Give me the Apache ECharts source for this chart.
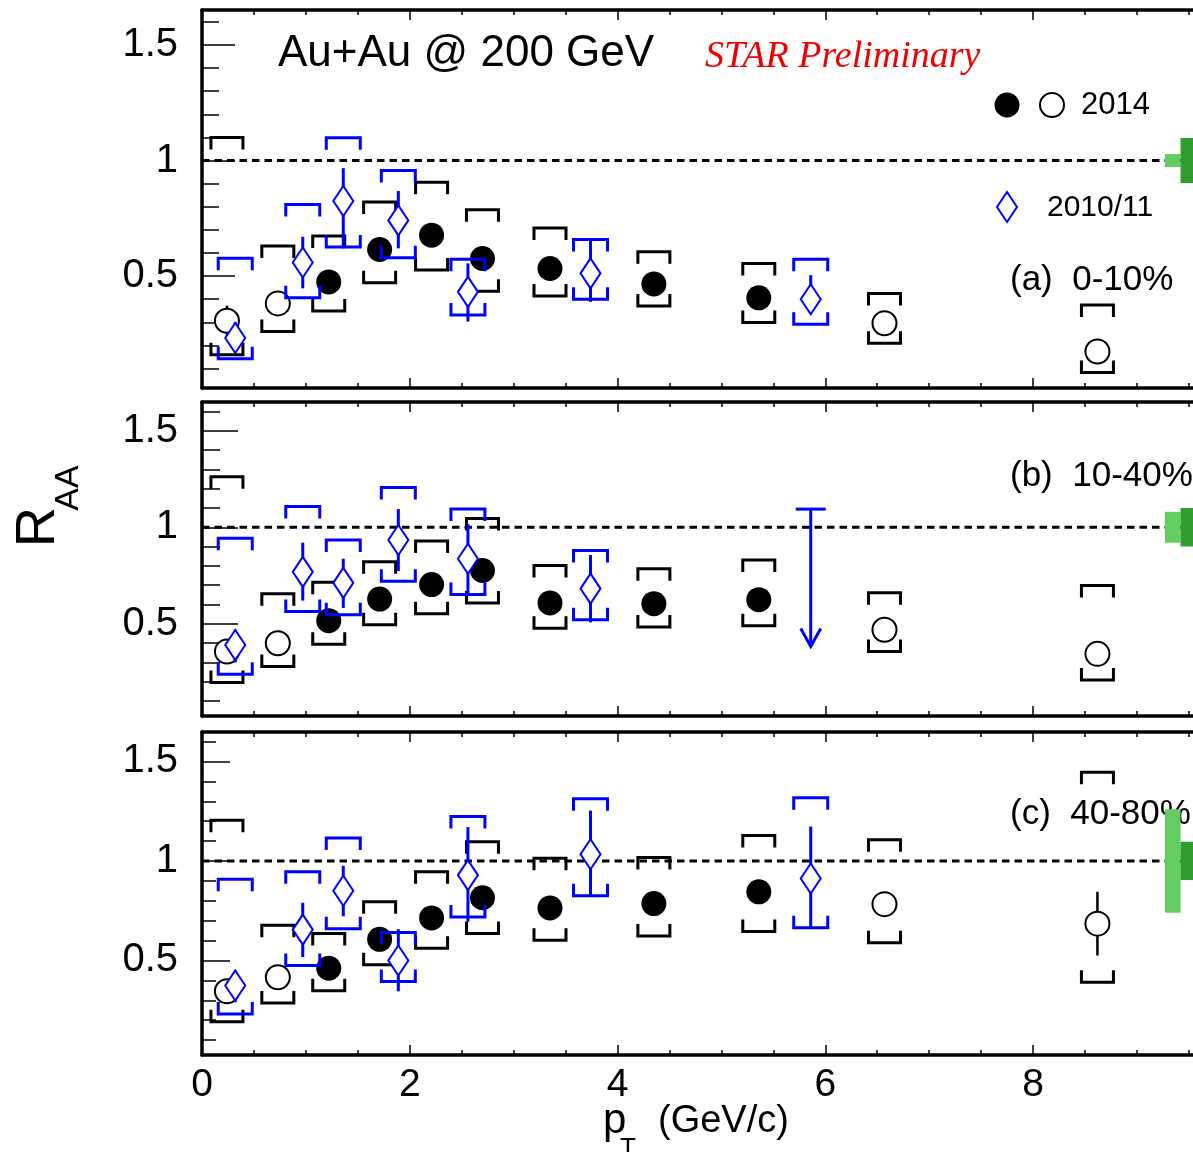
<!DOCTYPE html>
<html>
<head>
<meta charset="utf-8">
<script src="https://cdn.jsdelivr.net/npm/echarts@6/dist/echarts.min.js"></script>
<style>
html, body { margin: 0; padding: 0; background: #fff; }
#chart { width: 1193px; height: 1152px; }
</style>
</head>
<body>
<div id="chart"></div>
<script>
// pT bin centres (GeV/c)
const pt2014 = [0.24, 0.73, 1.22, 1.71, 2.21, 2.70, 3.35, 4.35, 5.36, 6.57, 8.62];
const pt2011 = [0.32, 0.97, 1.36, 1.89, 2.56, 3.74, 5.86];
const open2014 = [0, 1, 9, 10]; // bins drawn with open circles

// (a) 0-10%
const aRaa14   = [0.307, 0.382, 0.475, 0.615, 0.677, 0.576, 0.533, 0.466, 0.406, 0.296, 0.174];
const aStat14  = [0.065, 0.03, 0.02, 0.02, 0.02, 0.02, 0.02, 0.02, 0.02, 0.03, 0.04];
const aSysLo14 = [0.16, 0.26, 0.349, 0.471, 0.526, 0.435, 0.414, 0.371, 0.299, 0.21, 0.083];
const aSysHi14 = [1.10, 0.63, 0.674, 0.82, 0.906, 0.787, 0.708, 0.605, 0.555, 0.425, 0.375];
const aRaa11    = [0.232, 0.559, 0.825, 0.741, 0.432, 0.512, 0.40];
const aStatLo11 = [0.17, 0.447, 0.62, 0.62, 0.303, 0.389, 0.346];
const aStatHi11 = [0.30, 0.67, 0.967, 0.868, 0.555, 0.655, 0.504];
const aSysLo11  = [0.142, 0.406, 0.626, 0.579, 0.332, 0.40, 0.292];
const aSysHi11  = [0.577, 0.81, 1.098, 0.957, 0.573, 0.658, 0.573];

// (b) 10-40%
const bRaa14   = [0.356, 0.399, 0.516, 0.628, 0.703, 0.776, 0.608, 0.604, 0.625, 0.469, 0.344];
const bStat14  = [0.04, 0.03, 0.02, 0.02, 0.02, 0.02, 0.02, 0.02, 0.02, 0.04, 0.05];
const bSysLo14 = [0.196, 0.278, 0.394, 0.495, 0.552, 0.608, 0.477, 0.483, 0.49, 0.356, 0.208];
const bSysHi14 = [1.262, 0.656, 0.715, 0.821, 0.929, 1.045, 0.802, 0.785, 0.83, 0.66, 0.698];
const bRaa11    = [0.39, 0.769, 0.712, 0.934, 0.837, 0.682];
const bStatLo11 = [0.30, 0.62, 0.582, 0.773, 0.651, 0.507];
const bStatHi11 = [0.469, 0.92, 0.837, 1.094, 1.016, 0.856];
const bSysLo11  = [0.238, 0.564, 0.547, 0.72, 0.651, 0.521];
const bSysHi11  = [0.943, 1.108, 0.934, 1.206, 1.094, 0.88];
const bLimit11  = [1.094, 0.382]; // upper limit at last 2010/11 bin: bar top, arrow tip

// (c) 40-80%
const cRaa14   = [0.345, 0.416, 0.461, 0.606, 0.714, 0.815, 0.764, 0.786, 0.845, 0.783, 0.685];
const cStat14  = [0.04, 0.03, 0.02, 0.02, 0.02, 0.03, 0.03, 0.03, 0.04, 0.05, 0.16];
const cSysLo14 = [0.192, 0.286, 0.348, 0.478, 0.562, 0.635, 0.601, 0.623, 0.646, 0.589, 0.39];
const cSysHi14 = [1.204, 0.677, 0.635, 0.795, 0.946, 1.097, 1.013, 1.017, 1.128, 1.106, 1.446];
const cRaa11    = [0.374, 0.655, 0.85, 0.50, 0.929, 1.034, 0.912];
const cStatLo11 = [0.29, 0.517, 0.722, 0.345, 0.694, 0.825, 0.665];
const cStatHi11 = [0.449, 0.79, 0.976, 0.657, 1.17, 1.253, 1.173];
const cSysLo11  = [0.231, 0.475, 0.66, 0.394, 0.719, 0.825, 0.665];
const cSysHi11  = [0.908, 0.946, 1.115, 0.64, 1.224, 1.313, 1.317];

// normalisation uncertainty boxes at unity (half heights), a / b / c
const normEdges = [9.27, 9.42, 9.75];
const normLight = [0.028, 0.08, 0.26];
const normDark  = [0.097, 0.10, 0.096];

const xTicksMajor = [0, 2, 4, 6, 8];
const xTicksMinor = [0.5, 1, 1.5, 2.5, 3, 3.5, 4.5, 5, 5.5, 6.5, 7, 7.5, 8.5, 9, 9.5];
const yTicksMajor = [0.5, 1, 1.5];
const yTicksMinor = [0.1, 0.2, 0.3, 0.4, 0.6, 0.7, 0.8, 0.9, 1.1, 1.2, 1.3, 1.4, 1.6];

const panels = [
  { label: "(a)  0-10%", raa14: aRaa14, stat14: aStat14, sysLo14: aSysLo14, sysHi14: aSysHi14,
    raa11: aRaa11, statLo11: aStatLo11, statHi11: aStatHi11, sysLo11: aSysLo11, sysHi11: aSysHi11 },
  { label: "(b)  10-40%", raa14: bRaa14, stat14: bStat14, sysLo14: bSysLo14, sysHi14: bSysHi14,
    raa11: bRaa11, statLo11: bStatLo11, statHi11: bStatHi11, sysLo11: bSysLo11, sysHi11: bSysHi11 },
  { label: "(c)  40-80%", raa14: cRaa14, stat14: cStat14, sysLo14: cSysLo14, sysHi14: cSysHi14,
    raa11: cRaa11, statLo11: cStatLo11, statHi11: cStatHi11, sysLo11: cSysLo11, sysHi11: cSysHi11 },
];

const BLUE = "#0000ff";
const FONT = '"Liberation Sans", Arial, Helvetica, sans-serif';
const XMAX = 9.54;
const YMIN = [0.016, 0.022, 0.025];
const YMAX = [1.651, 1.649, 1.648];
const gridTop = [10, 402, 732];
const gridH = [378, 314, 323];
const yTickLong = [33, 36, 28];
const yTickShort = [17, 18, 14];
const labelY = [280, 476, 814];

function renderPoint(params, api) {
  const x = api.value(0);
  const c = api.coord([x, api.value(1)]);
  const sLo = api.coord([x, api.value(2)])[1];
  const sHi = api.coord([x, api.value(3)])[1];
  const stLo = api.coord([x, api.value(4)])[1];
  const stHi = api.coord([x, api.value(5)])[1];
  const kind = api.value(6); // 0 filled, 1 open, 2 diamond
  const col = kind === 2 ? BLUE : "#000";
  const hw = kind === 2 ? 17 : 16, leg = 12;
  const lineStyle = { stroke: col, lineWidth: 3, fill: null, lineJoin: "miter" };
  const children = [
    { type: "polyline", shape: { points: [[c[0] - hw, sHi + leg], [c[0] - hw, sHi], [c[0] + hw, sHi], [c[0] + hw, sHi + leg]] }, style: lineStyle },
    { type: "polyline", shape: { points: [[c[0] - hw, sLo - leg], [c[0] - hw, sLo], [c[0] + hw, sLo], [c[0] + hw, sLo - leg]] }, style: lineStyle },
    { type: "line", shape: { x1: c[0], y1: stHi, x2: c[0], y2: stLo }, style: { stroke: col, lineWidth: kind === 2 ? 3 : 2.5 } },
  ];
  if (kind === 0) {
    children.push({ type: "circle", shape: { cx: c[0], cy: c[1], r: 12.5 }, style: { fill: "#000" } });
  } else if (kind === 1) {
    children.push({ type: "circle", shape: { cx: c[0], cy: c[1], r: 12 }, style: { fill: "#fff", stroke: "#000", lineWidth: 2 } });
  } else {
    children.push({ type: "polygon", shape: { points: [[c[0], c[1] - 15], [c[0] + 10, c[1]], [c[0], c[1] + 15], [c[0] - 10, c[1]]] },
      style: { fill: "#fff", stroke: BLUE, lineWidth: 2 } });
  }
  return { type: "group", children: children };
}

function renderLimit(params, api) {
  const x = api.value(0);
  const top = api.coord([x, api.value(1)]);
  const tip = api.coord([x, api.value(2)]);
  const st = { stroke: BLUE, lineWidth: 3, fill: null };
  return { type: "group", children: [
    { type: "line", shape: { x1: top[0], y1: top[1], x2: tip[0], y2: tip[1] }, style: st },
    { type: "line", shape: { x1: top[0] - 15, y1: top[1], x2: top[0] + 15, y2: top[1] }, style: st },
    { type: "polyline", shape: { points: [[tip[0] - 10, tip[1] - 18], [tip[0], tip[1]], [tip[0] + 10, tip[1] - 18]] }, style: st },
  ] };
}

function renderNorm(params, api) {
  const x0 = api.value(0), x1 = api.value(1), x2 = api.value(2);
  const light = api.value(3), dark = api.value(4);
  const l0 = api.coord([x0, 1 + light]), l1 = api.coord([x1, 1 - light]);
  const d0 = api.coord([x1, 1 + dark]), d1 = api.coord([x2, 1 - dark]);
  return { type: "group", children: [
    { type: "rect", shape: { x: l0[0], y: l0[1], width: l1[0] - l0[0], height: l1[1] - l0[1] }, style: { fill: "#63cd63" } },
    { type: "rect", shape: { x: d0[0], y: d0[1], width: d1[0] - d0[0], height: d1[1] - d0[1] }, style: { fill: "#2f9e2f" } },
  ] };
}

const grids = [], xAxes = [], yAxes = [], series = [], graphics = [];

panels.forEach(function (p, i) {
  grids.push({ left: 202, right: 0, top: gridTop[i], height: gridH[i], containLabel: false, outerBoundsMode: "none" });
  const isLast = i === panels.length - 1;
  const xBase = { type: "value", gridIndex: i, min: 0, max: XMAX, splitLine: { show: false } };
  xAxes.push(Object.assign({}, xBase, {
    position: "bottom",
    axisLine: { show: true, lineStyle: { color: "#000", width: 3.5 } },
    axisTick: { show: true, inside: true, length: 10, customValues: xTicksMajor, lineStyle: { color: "#000", width: 1.5 } },
    axisLabel: { show: isLast, customValues: xTicksMajor, color: "#000", fontFamily: FONT, fontSize: 39, margin: 11 },
  }));
  xAxes.push(Object.assign({}, xBase, {
    position: "bottom",
    axisLine: { show: false },
    axisTick: { show: true, inside: true, length: 5, customValues: xTicksMinor, lineStyle: { color: "#000", width: 1.5 } },
    axisLabel: { show: false },
  }));
  xAxes.push(Object.assign({}, xBase, {
    position: "top",
    axisLine: { show: true, lineStyle: { color: "#000", width: 3.5 } },
    axisTick: { show: true, inside: true, length: 10, customValues: xTicksMajor, lineStyle: { color: "#000", width: 1.5 } },
    axisLabel: { show: false },
  }));
  xAxes.push(Object.assign({}, xBase, {
    position: "top",
    axisLine: { show: false },
    axisTick: { show: true, inside: true, length: 5, customValues: xTicksMinor, lineStyle: { color: "#000", width: 1.5 } },
    axisLabel: { show: false },
  }));
  const yBase = { type: "value", gridIndex: i, min: YMIN[i], max: YMAX[i], position: "left", splitLine: { show: false } };
  yAxes.push(Object.assign({}, yBase, {
    axisLine: { show: true, lineStyle: { color: "#000", width: 3.5 } },
    axisTick: { show: true, inside: true, length: yTickLong[i], customValues: yTicksMajor, lineStyle: { color: "#000", width: 1.5 } },
    axisLabel: { show: true, customValues: yTicksMajor, color: "#000", fontFamily: FONT, fontSize: 40, margin: 24 },
  }));
  yAxes.push(Object.assign({}, yBase, {
    axisLine: { show: false },
    axisTick: { show: true, inside: true, length: yTickShort[i], customValues: yTicksMinor, lineStyle: { color: "#000", width: 1.5 } },
    axisLabel: { show: false },
  }));

  const xi = 4 * i, yi = 2 * i;
  // unity reference
  series.push({
    type: "line", xAxisIndex: xi, yAxisIndex: yi, z: 1, silent: true, symbol: "none",
    data: [[0, 1], [XMAX, 1]],
    lineStyle: { color: "#000", width: 3, type: [7.5, 5] },
  });
  const d14 = pt2014.map(function (x, k) {
    return [x, p.raa14[k], p.sysLo14[k], p.sysHi14[k], p.raa14[k] - p.stat14[k], p.raa14[k] + p.stat14[k], open2014.indexOf(k) >= 0 ? 1 : 0];
  });
  series.push({ type: "custom", xAxisIndex: xi, yAxisIndex: yi, z: 3, silent: true, renderItem: renderPoint, data: d14 });
  const d11 = p.raa11.map(function (v, k) {
    return [pt2011[k], v, p.sysLo11[k], p.sysHi11[k], p.statLo11[k], p.statHi11[k], 2];
  });
  series.push({ type: "custom", xAxisIndex: xi, yAxisIndex: yi, z: 4, silent: true, renderItem: renderPoint, data: d11 });
  if (i === 1) {
    series.push({ type: "custom", xAxisIndex: xi, yAxisIndex: yi, z: 4, silent: true, renderItem: renderLimit,
      data: [[pt2011[6], bLimit11[0], bLimit11[1]]] });
  }
  series.push({ type: "custom", xAxisIndex: xi, yAxisIndex: yi, z: 5, silent: true, renderItem: renderNorm,
    data: [[normEdges[0], normEdges[1], normEdges[2], normLight[i], normDark[i]]] });

  graphics.push({ type: "text", x: 1010, y: labelY[i], z: 1,
    style: { text: p.label, font: "35px " + FONT, fill: "#000", textAlign: "left", textVerticalAlign: "middle" } });
});

// titles, legend, axis names
graphics.push(
  { type: "text", x: 278, y: 54, style: { text: "Au+Au @ 200 GeV", font: "44px " + FONT, fill: "#000", textAlign: "left", textVerticalAlign: "middle" } },
  { type: "text", x: 705, y: 57, style: { text: "STAR Preliminary", font: 'italic 38px "Liberation Serif", "Times New Roman", serif', fill: "#f00000", textAlign: "left", textVerticalAlign: "middle" } },
  { type: "circle", shape: { cx: 1007, cy: 105, r: 12.5 }, style: { fill: "#000" } },
  { type: "circle", shape: { cx: 1052, cy: 105, r: 12 }, style: { fill: "#fff", stroke: "#000", lineWidth: 2 } },
  { type: "text", x: 1081, y: 105, style: { text: "2014", font: "31px " + FONT, fill: "#000", textAlign: "left", textVerticalAlign: "middle" } },
  { type: "polygon", shape: { points: [[1007, 192], [1017, 207], [1007, 222], [997, 207]] }, style: { fill: "#fff", stroke: BLUE, lineWidth: 2 } },
  { type: "text", x: 1047, y: 208, style: { text: "2010/11", font: "30px " + FONT, fill: "#000", textAlign: "left", textVerticalAlign: "middle" } },
  { type: "text", x: 39, y: 527, rotation: Math.PI / 2, style: { text: "R", font: '56px "Liberation Sans Narrow", ' + FONT, fill: "#000", textAlign: "center", textVerticalAlign: "middle" } },
  { type: "text", x: 69, y: 488, rotation: Math.PI / 2, style: { text: "AA", font: "34px " + FONT, fill: "#000", textAlign: "center", textVerticalAlign: "middle" } },
  { type: "text", x: 603, y: 1121, style: { text: "p", font: "42px " + FONT, fill: "#000", textAlign: "left", textVerticalAlign: "middle" } },
  { type: "text", x: 628, y: 1149, style: { text: "T", font: "26px " + FONT, fill: "#000", textAlign: "center", textVerticalAlign: "middle" } },
  { type: "text", x: 658, y: 1122, style: { text: "(GeV/c)", font: "38px " + FONT, fill: "#000", textAlign: "left", textVerticalAlign: "middle" } }
);

const myChart = echarts.init(document.getElementById("chart"), null, { renderer: "canvas" });
myChart.setOption({
  animation: false,
  backgroundColor: "#fff",
  grid: grids,
  xAxis: xAxes,
  yAxis: yAxes,
  series: series,
  graphic: { elements: graphics },
});
</script>
</body>
</html>
